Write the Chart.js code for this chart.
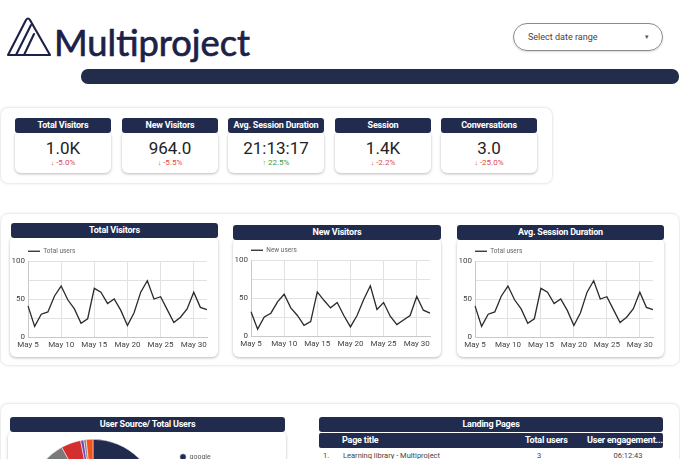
<!DOCTYPE html>
<html><head><meta charset="utf-8">
<script src="https://cdn.jsdelivr.net/npm/chart.js@4/dist/chart.umd.min.js"></script>
<style>
html,body{margin:0;padding:0;width:680px;height:459px;overflow:hidden;background:#fff;font-family:Roboto,"Noto Sans",sans-serif;}
#root{position:relative;width:680px;height:459px;overflow:hidden;}
.a{position:absolute;}
.panel{position:absolute;background:#fff;border-radius:7px;box-shadow:0 0 3px rgba(0,0,0,0.2);}
.hdr{position:absolute;background:#212b4e;color:#fff;font-weight:700;font-size:9px;text-align:center;border-radius:3px;letter-spacing:-0.2px;line-height:15px;height:15px;white-space:nowrap;overflow:hidden;}
.card{position:absolute;background:#fff;border-radius:6px;box-shadow:0 1px 3px rgba(0,0,0,0.28);}
.kval{position:absolute;left:0;width:100%;text-align:center;font-size:17px;color:#222;top:6px;line-height:22px;}
.kdel{position:absolute;left:0;width:100%;text-align:center;font-size:8px;top:27px;line-height:10px;}
.neg{color:#e04848;} .pos{color:#3a9a4e;}
canvas{position:absolute;}
.cell{position:absolute;white-space:nowrap;font-size:7.5px;color:#444;}
.th{position:absolute;white-space:nowrap;font-size:9px;color:#fff;font-weight:700;letter-spacing:-0.2px;}
</style></head>
<body><div id="root">
<!-- logo -->
<svg class="a" style="left:0;top:0" width="60" height="70">
 <g fill="none" stroke="#1c2148" stroke-width="2.1" stroke-linejoin="round" stroke-linecap="round">
  <path d="M8,55 L26,20 Q28,17 30,20 L50,55 Z"/>
  <path d="M16,55 L31,25"/>
  <path d="M24,55 L34,34"/>
 </g>
</svg>
<div id="logoText" class="a" style="left:54px;top:20px;font-family:Lato,sans-serif;font-size:37px;line-height:44px;color:#1c2148;-webkit-text-stroke:0.7px #1c2148;white-space:nowrap;transform-origin:0 0;">Multiproject</div>
<!-- date picker -->
<div class="a" style="left:513px;top:23px;width:148px;height:26px;border:1px solid #8a8a8a;border-radius:14px;box-shadow:0 1px 2px rgba(0,0,0,0.15);"></div>
<div class="a" style="left:528px;top:31px;font-size:9px;color:#444;line-height:12px;">Select date range</div>
<div class="a" style="left:645px;top:31px;font-size:7px;color:#555;line-height:12px;">▾</div>
<!-- navy bar -->
<div class="a" style="left:81px;top:69px;width:598px;height:15px;background:#222c4b;border-radius:7px;"></div>

<!-- KPI panel -->
<div class="panel" style="left:1px;top:108px;width:551px;height:75px;"></div>
<div id="kpis"></div>

<!-- charts panel -->
<div class="panel" style="left:1px;top:214px;width:678px;height:151px;"></div>
<div class="card" style="left:10px;top:236px;width:208px;height:121px;"></div>
<div class="hdr" style="left:11px;top:223px;width:207px;">Total Visitors</div>
<div class="card" style="left:233px;top:238px;width:208px;height:119px;"></div>
<div class="hdr" style="left:233px;top:225px;width:208px;">New Visitors</div>
<div class="card" style="left:457px;top:238px;width:207px;height:119px;"></div>
<div class="hdr" style="left:457px;top:225px;width:207px;">Avg. Session Duration</div>
<canvas id="c1" width="208" height="117" style="left:10px;top:240px;"></canvas>
<canvas id="c2" width="208" height="117" style="left:233px;top:239px;"></canvas>
<canvas id="c3" width="207" height="117" style="left:457px;top:240px;"></canvas>

<!-- bottom panel -->
<div class="panel" style="left:1px;top:404px;width:678px;height:120px;"></div>
<div class="card" style="left:8px;top:431px;width:278px;height:90px;"></div>
<div class="hdr" style="left:10px;top:417px;width:275px;">User Source/ Total Users</div>
<canvas id="pie" width="275" height="200" style="left:10px;top:433px;"></canvas>

<div class="hdr" style="left:319px;top:417px;width:344px;">Landing Pages</div>
<div class="a" style="left:319px;top:433px;width:344px;height:15px;background:#212b4e;border-radius:2px;"></div>
<div id="table"></div>
</div>
<script>
// ---------- data ----------
const kpiTitles = ['Total Visitors','New Visitors','Avg. Session Duration','Session','Conversations'];
const kpiValues = ['1.0K','964.0','21:13:17','1.4K','3.0'];
const kpiDeltas = ['-5.0%','-5.5%','22.5%','-2.2%','-25.0%'];

const dayLabels = ['May 5','May 6','May 7','May 8','May 9','May 10','May 11','May 12','May 13','May 14',
  'May 15','May 16','May 17','May 18','May 19','May 20','May 21','May 22','May 23','May 24',
  'May 25','May 26','May 27','May 28','May 29','May 30','May 31','Jun 1'];
const totalUsers = [41,14,30,33,54,67,49,37,18,24,64,59,44,50,35,15,32,59,74,50,53,36,19,26,37,59,39,36];
const newUsers   = [32,9,25,30,45,55,37,27,14,19,58,47,37,44,27,12,27,48,66,35,44,26,15,21,27,52,34,30];
const sessionUsers = [41,14,30,33,54,67,49,37,18,24,64,59,44,50,35,15,32,59,74,50,53,36,19,26,37,59,39,36];
const yTicks = [0,50,100];

const sourceLabels = ['google','(direct)','bing','yahoo','duckduckgo','linkedin.com'];
const sourceUsers  = [812,118,50,8,6,17];
const sourceColors = ['#212b4e','#7a7a7a','#d32f2f','#6b4bb8','#8d7b78','#f0541e'];

const pageTitles = ['Learning library - Multiproject'];
const pageUsers = ['3'];
const pageEngagement = ['06:12:43'];
const tableCols = ['Page title','Total users','User engagement...'];

// ---------- KPI cards ----------
const kpiLefts = [15,122,228,335,441];
const kp = document.getElementById('kpis');
kpiTitles.forEach((t,i)=>{
  const L = kpiLefts[i];
  const neg = kpiDeltas[i].startsWith('-');
  kp.insertAdjacentHTML('beforeend',
   `<div class="card" style="left:${L}px;top:131px;width:96px;height:42px;">
      <div class="kval">${kpiValues[i]}</div>
      <div class="kdel ${neg?'neg':'pos'}"><b style="font-size:7px">${neg?'↓':'↑'}</b> ${kpiDeltas[i]}</div>
    </div>
    <div class="hdr" style="left:${L}px;top:118px;width:96px;">${t}</div>`);
});

// ---------- table ----------
const tb = document.getElementById('table');
tb.insertAdjacentHTML('beforeend',
 `<div class="th" style="left:342px;top:433px;line-height:15px;">${tableCols[0]}</div>
  <div class="th" style="left:525px;top:433px;line-height:15px;">${tableCols[1]}</div>
  <div class="th" style="left:587px;top:433px;line-height:15px;">${tableCols[2]}</div>`);
pageTitles.forEach((p,i)=>{
  const y = 450 + i*14;
  tb.insertAdjacentHTML('beforeend',
   `<div class="cell" style="left:323px;top:${y}px;line-height:11px;">${i+1}.</div>
    <div class="cell" style="left:343px;top:${y}px;line-height:11px;">${p}</div>
    <div class="cell" style="left:522px;width:34px;text-align:center;top:${y}px;line-height:11px;">${pageUsers[i]}</div>
    <div class="cell" style="left:606px;width:44px;text-align:center;top:${y}px;line-height:11px;">${pageEngagement[i]}</div>`);
});

// ---------- logo width fit ----------
const lt = document.getElementById('logoText');
const w = lt.getBoundingClientRect().width;
lt.style.transform = `scaleX(${196/w})`;

// ---------- legend nudge plugin ----------
const legendNudge = {
  id:'legendNudge',
  afterLayout(chart, args, o){
    const L = chart.legend; if(!L) return;
    const dx = o.dx||0, dy = o.dy||0;
    L.left += dx; L.right += dx; L.top += dy; L.bottom += dy;
  }
};

// ---------- line charts ----------
function lineChart(id, label, data){
  new Chart(document.getElementById(id), {
    type:'line',
    plugins:[legendNudge],
    data:{labels:dayLabels, datasets:[{label, data, borderColor:'#2a2a2a', backgroundColor:'#2a2a2a', borderWidth:1.3, pointRadius:0, tension:0, fill:false}]},
    options:{
      responsive:false, animation:false,
      layout:{padding:{left:0,right:11,top:2,bottom:0}},
      plugins:{
        legendNudge:{dx:12, dy:0},
        legend:{display:true, position:'top', align:'start', maxHeight:19,
          labels:{usePointStyle:true, pointStyle:'line', pointStyleWidth:12, padding:6,
            font:{size:6.5, family:'Roboto'}, color:'#666'}},
        tooltip:{enabled:false}
      },
      scales:{
        x:{grid:{color:'#e2e2e2', drawTicks:false}, border:{color:'#c9c9c9'},
           ticks:{autoSkip:false, maxRotation:0, padding:3, font:{size:8, family:'Roboto'}, color:'#444',
             callback:(v,i)=> i%5===0 ? dayLabels[i] : null},
           afterFit:a=>{a.height=20;}},
        y:{min:0, max:100, grid:{color:'#e2e2e2', drawTicks:false}, border:{color:'#c9c9c9'},
           ticks:{stepSize:25, padding:3, font:{size:8, family:'Roboto'}, color:'#444',
             callback:v=> yTicks.includes(v) ? String(v) : ''},
           afterFit:a=>{a.width=18;}}
      }
    }
  });
}
lineChart('c1','Total users', totalUsers);
lineChart('c2','New users', newUsers);
lineChart('c3','Total users', sessionUsers);

// ---------- pie ----------
new Chart(document.getElementById('pie'), {
  type:'pie',
  data:{labels:sourceLabels, datasets:[{data:sourceUsers, backgroundColor:sourceColors, borderColor:'#fff', borderWidth:0.5}]},
  options:{
    responsive:false, animation:false,
    layout:{padding:{left:10.5, right:59.5, top:6, bottom:64}},
    plugins:{
      legend:{position:'right', align:'start', maxWidth:60,
        labels:{usePointStyle:true, pointStyle:'circle', boxWidth:6, boxHeight:4.5, padding:14.5,
          font:{size:7, family:'Roboto'}, color:'#555'}},
      tooltip:{enabled:false}
    }
  }
});
</script>
</body></html>
